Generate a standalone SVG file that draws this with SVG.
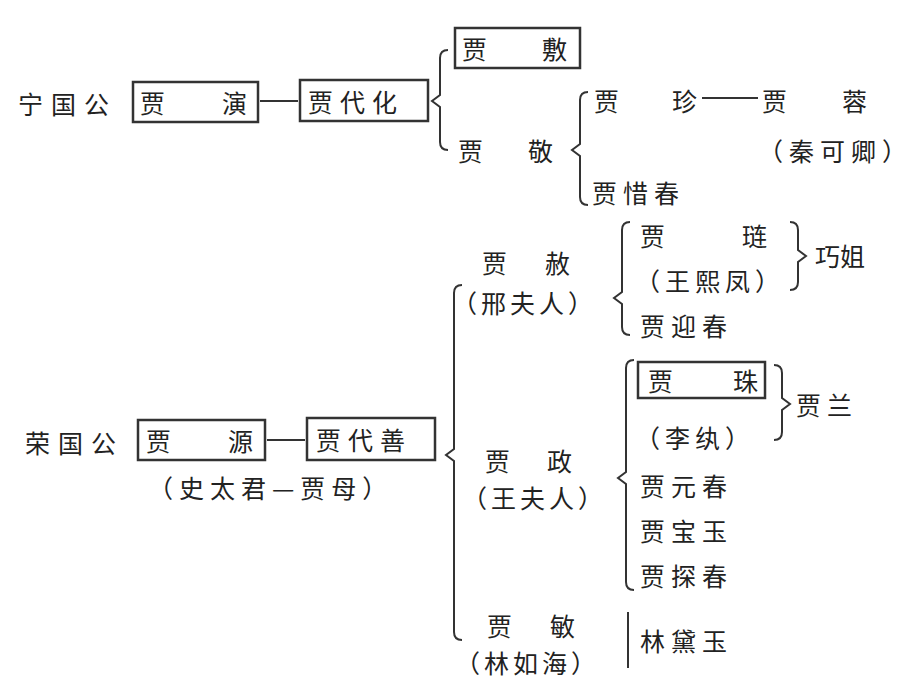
<svg xmlns="http://www.w3.org/2000/svg" width="920" height="690" viewBox="0 0 920 690">
<style>
text{font-family:"Noto Sans CJK SC","Noto Sans CJK JP",sans-serif;font-size:25px;fill:#222;dominant-baseline:central}
.b{fill:none;stroke:#333;stroke-width:2.5}
.l{fill:none;stroke:#333;stroke-width:2}
</style>
<rect width="920" height="690" fill="#fff"/>
<g id="ning">
<text x="18" y="103" letter-spacing="8">宁国公</text>
<rect class="b" x="133" y="82" width="125" height="40"/>
<text x="140" y="102">贾</text><text x="222" y="102">演</text>
</g>
<g id="daihua"><rect class="b" x="300" y="80" width="128" height="41"/><text x="308" y="101" letter-spacing="7">贾代化</text></g>
<g id="jiafu"><rect class="b" x="455" y="28" width="125" height="40"/><text x="462" y="48">贾</text><text x="542" y="48">敷</text></g>
<g id="jiajing"><text x="458" y="150">贾</text><text x="528" y="150">敬</text></g>
<g id="jiazhen"><text x="594" y="100">贾</text><text x="672" y="100">珍</text></g>
<g id="jiarong"><text x="762" y="100">贾</text><text x="842" y="100">蓉</text><text x="758" y="150" letter-spacing="6">（秦可卿）</text></g>
<g id="xichun"><text x="592" y="192" letter-spacing="6">贾惜春</text></g>
<g id="rong">
<text x="25" y="442" letter-spacing="8">荣国公</text>
<rect class="b" x="138" y="420" width="127" height="40"/>
<text x="146" y="440">贾</text><text x="228" y="440">源</text>
</g>
<g id="daishan"><rect class="b" x="307" y="418" width="128" height="42"/><text x="316" y="439" letter-spacing="7">贾代善</text>
<text x="148" y="487" letter-spacing="6">（史太君—贾母）</text></g>
<g id="jiashe"><text x="482" y="262">贾</text><text x="545" y="262">赦</text><text x="452" y="302" letter-spacing="4">（邢夫人）</text></g>
<g id="jialian"><text x="640" y="235">贾</text><text x="742" y="235">琏</text><text x="635" y="280" letter-spacing="5">（王熙凤）</text></g>
<g id="qiaojie"><text x="815" y="255">巧姐</text></g>
<g id="yingchun"><text x="640" y="325" letter-spacing="6">贾迎春</text></g>
<g id="jiazheng"><text x="485" y="460">贾</text><text x="547" y="460">政</text><text x="462" y="497" letter-spacing="4">（王夫人）</text></g>
<g id="jiazhu"><rect class="b" x="638" y="362" width="127" height="36"/><text x="648" y="380">贾</text><text x="733" y="380">珠</text><text x="635" y="437" letter-spacing="5">（李纨）</text></g>
<g id="jialan"><text x="796" y="404" letter-spacing="6">贾兰</text></g>
<g id="yuanchun"><text x="640" y="485" letter-spacing="6">贾元春</text></g>
<g id="baoyu"><text x="640" y="530" letter-spacing="6">贾宝玉</text></g>
<g id="tanchun"><text x="640" y="575" letter-spacing="6">贾探春</text></g>
<g id="jiamin"><text x="487" y="625">贾</text><text x="550" y="625">敏</text><text x="455" y="662" letter-spacing="4">（林如海）</text></g>
<g id="daiyu"><text x="640" y="640" letter-spacing="6">林黛玉</text></g>
<g id="connectors">
<line class="l" x1="260" y1="101" x2="298" y2="101"/>
<line class="l" x1="267" y1="440" x2="305" y2="440"/>
<line class="l" x1="702" y1="98" x2="758" y2="98"/>
<path class="l" d="M448 50 Q440 50 440 58 V95 L432 101 L440 107 V142 Q440 150 448 150"/>
<path class="l" d="M588 92 Q580 92 580 100 V144 L572 150 L580 156 V197 Q580 205 588 205"/>
<path class="l" d="M462 285 Q454 285 454 293 V449 L446 455 L454 461 V632 Q454 640 462 640"/>
<path class="l" d="M630 222 Q622 222 622 230 V292 L614 298 L622 304 V327 Q622 335 630 335"/>
<path class="l" d="M634 360 Q626 360 626 368 V472 L618 478 L626 484 V582 Q626 590 634 590"/>
<path class="l" d="M790 222 Q798 222 798 230 V250 L806 256 L798 262 V282 Q798 290 790 290"/>
<path class="l" d="M774 365 Q782 365 782 373 V398 L790 404 L782 410 V432 Q782 440 774 440"/>
<line class="l" x1="628" y1="612" x2="628" y2="668"/>
</g>
</svg>
